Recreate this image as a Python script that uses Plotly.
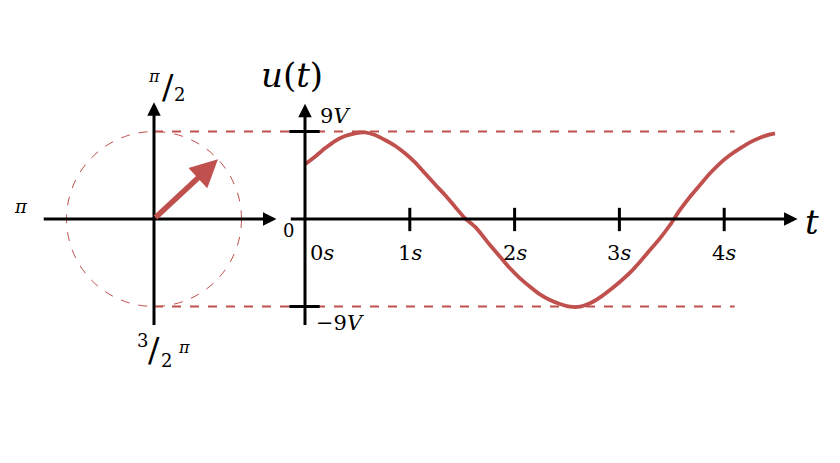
import plotly.graph_objects as go
import math

# ---------------- data ----------------
t_s = [0.0, 0.095, 0.191, 0.286, 0.382, 0.477, 0.573, 0.668, 0.763, 0.859, 0.954,
       1.050, 1.145, 1.240, 1.336, 1.431, 1.527, 1.622, 1.765, 1.861, 1.956,
       2.052, 2.147, 2.242, 2.338, 2.433, 2.529, 2.624, 2.719, 2.815, 2.910,
       3.006, 3.101, 3.197, 3.292, 3.387, 3.483, 3.578, 3.674, 3.769, 3.865,
       3.960, 4.056, 4.151, 4.246, 4.342, 4.437, 4.485]
u_V = [5.63, 6.41, 7.27, 8.02, 8.54, 8.82, 8.92, 8.64, 8.13, 7.54, 6.76,
       5.83, 4.70, 3.57, 2.47, 1.27, 0.07, -0.79, -2.67, -3.88, -5.07,
       -6.10, -6.96, -7.75, -8.33, -8.74, -9.02, -9.02, -8.67, -8.06, -7.30,
       -6.45, -5.52, -4.39, -3.19, -1.99, -0.62, 0.93, 2.29, 3.50, 4.70,
       5.73, 6.58, 7.27, 7.89, 8.36, 8.71, 8.82]
amplitude_V = 9
phase_deg = 43
tick_s = [0, 1, 2, 3, 4]
tick_labels = ["0<i>s</i>", "1<i>s</i>", "2<i>s</i>", "3<i>s</i>", "4<i>s</i>"]
volt_labels = ["9<i>V</i>", "−9<i>V</i>"]

# ---------------- style / calibration ----------------
W, H = 840, 463
RED = "#C0504D"
BLACK = "#000000"
FONT = "DejaVu Serif"
PX_PER_S = 104.8
PX_PER_V = 9.72
X0_T = 305     # pixel of t = 0
Y0 = 219       # pixel of u = 0
X0_P = 154     # pixel of phasor centre


def t_to_x2(t):
    return (X0_T + t * PX_PER_S - X0_P) / PX_PER_V


fig = go.Figure()

# sine curve
fig.add_trace(go.Scatter(x=t_s, y=u_V, mode="lines",
                         line=dict(color=RED, width=3.8, shape="spline", smoothing=0.6),
                         hoverinfo="skip", showlegend=False))

shapes = []
ann = []

# phasor circle
A = amplitude_V
shapes.append(dict(type="circle", xref="x2", yref="y", x0=-A, x1=A, y0=-A, y1=A,
                   line=dict(color=RED, width=1, dash="dash")))

# dashed amplitude lines
for v in (A, -A):
    shapes.append(dict(type="line", xref="x2", yref="y", x0=0, x1=t_to_x2(4.10), y0=v, y1=v,
                       line=dict(color=RED, width=2.2, dash="dash")))


def axis_arrow(xref, x0, y0, x1, y1):
    ann.append(dict(xref=xref, yref="y", axref=xref, ayref="y", x=x1, y=y1, ax=x0, ay=y0,
                    text="", showarrow=True, arrowhead=2, arrowsize=0.9, arrowwidth=3,
                    arrowcolor=BLACK, standoff=0, startstandoff=0))


# phasor axes
axis_arrow("x2", -11.5, 0, 12.6, 0)
axis_arrow("x2", 0, -11.05, 0, 12.0)
# time axes
axis_arrow("x", -0.15, 0, 4.70, 0)
axis_arrow("x", 0, -11.05, 0, 11.85)

# time ticks
for t in tick_s[1:]:
    shapes.append(dict(type="line", xref="x", yref="y", x0=t, x1=t, y0=-1.25, y1=1.15,
                       line=dict(color=BLACK, width=3)))
# voltage ticks
for v in (A, -A):
    shapes.append(dict(type="line", xref="x", yref="y", x0=-0.15, x1=0.14, y0=v, y1=v,
                       line=dict(color=BLACK, width=3)))

# phasor arrow
ph = math.radians(phase_deg)
ann.append(dict(xref="x2", yref="y", axref="x2", ayref="y",
                x=A * math.cos(ph), y=A * math.sin(ph), ax=0, ay=0,
                text="", showarrow=True, arrowhead=2, arrowsize=1.0, arrowwidth=5.5,
                arrowcolor=RED, standoff=0, startstandoff=0))


def label(text, xref, x, y, size, xanchor="center", yanchor="middle"):
    ann.append(dict(xref=xref, yref="y", x=x, y=y, text=text, showarrow=False,
                    font=dict(family=FONT, size=size, color=BLACK),
                    xanchor=xanchor, yanchor=yanchor))


def py(p):
    return (Y0 - p) / PX_PER_V


def px2(p):
    return (p - X0_P) / PX_PER_V


def pxt(p):
    return (p - X0_T) / PX_PER_S


# tick labels
for t, lab in zip(tick_s, tick_labels):
    xpos = t + 0.16 if t == 0 else t
    label(lab, "x", xpos, py(253), 21)
label(volt_labels[0], "x", pxt(318), py(116), 21, xanchor="left")
label(volt_labels[1], "x", pxt(314), py(323), 21, xanchor="left")
label("<i>u</i>(<i>t</i>)", "x", pxt(292), py(75), 34)
label("<i>t</i>", "x", pxt(812), py(222), 34)

# phasor labels
label("0", "x2", px2(288), py(230), 18)
label("<i>π</i>", "x2", px2(21), py(206), 18)
label("<i>π</i>", "x2", px2(154), py(76), 16)
label("/", "x2", px2(168), py(87), 34)
label("2", "x2", px2(179), py(94), 18)
label("3", "x2", px2(142), py(340), 18)
label("/", "x2", px2(154), py(350), 34)
label("2", "x2", px2(166), py(360), 18)
label("<i>π</i>", "x2", px2(184), py(347), 16)

fig.update_layout(
    width=W, height=H, margin=dict(l=0, r=0, t=0, b=0),
    plot_bgcolor="white", paper_bgcolor="white",
    showlegend=False,
    shapes=shapes, annotations=ann,
    xaxis=dict(range=[-X0_T / PX_PER_S, (W - X0_T) / PX_PER_S], visible=False, fixedrange=True),
    xaxis2=dict(range=[-X0_P / PX_PER_V, (W - X0_P) / PX_PER_V], visible=False,
                overlaying="x", fixedrange=True),
    yaxis=dict(range=[-(H - Y0) / PX_PER_V, Y0 / PX_PER_V], visible=False, fixedrange=True),
)

fig.write_html("out.html", config={"displayModeBar": False},
               post_script="document.body.style.margin='0';document.body.style.overflow='hidden';")
